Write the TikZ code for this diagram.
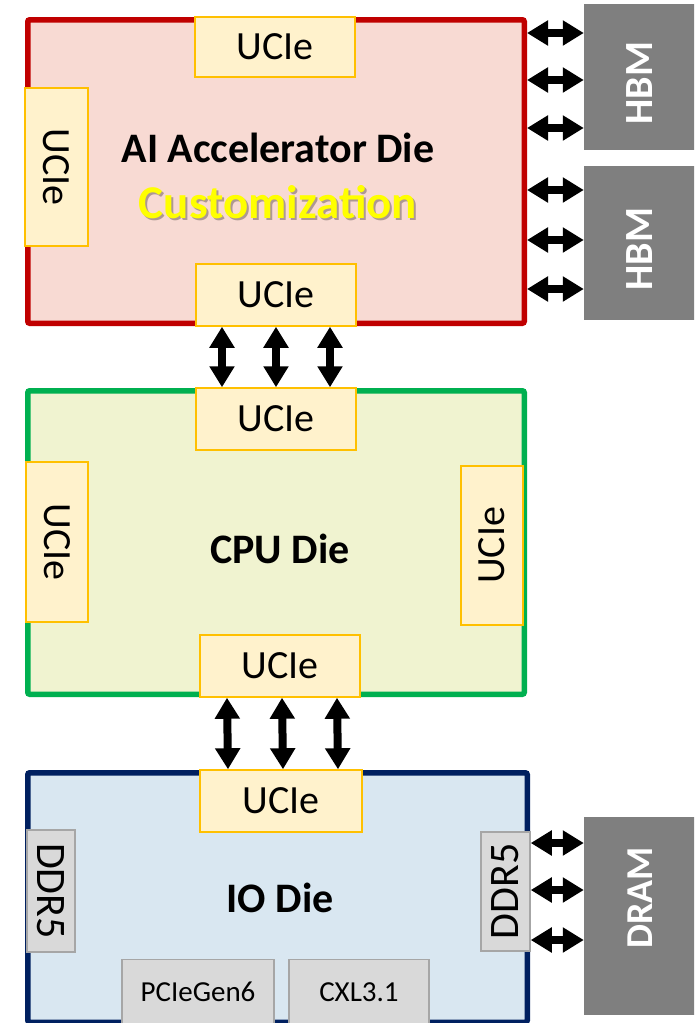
\documentclass[tikz,border=0pt]{standalone}
\usepackage{fontspec}
\setmainfont{Carlito}
\usetikzlibrary{arrows.meta}

\definecolor{ailine}{HTML}{C00000}
\definecolor{aifill}{HTML}{F8DAD3}
\definecolor{cpuline}{HTML}{00B050}
\definecolor{cpufill}{HTML}{F0F3D0}
\definecolor{ioline}{HTML}{002060}
\definecolor{iofill}{HTML}{D9E7F1}
\definecolor{uline}{HTML}{FFC000}
\definecolor{ufill}{HTML}{FFF2CC}
\definecolor{memgray}{HTML}{7F7F7F}
\definecolor{phyfill}{HTML}{D9D9D9}
\definecolor{phyline}{HTML}{A6A6A6}
\definecolor{custyellow}{HTML}{FFFF00}

\begin{document}
\begin{tikzpicture}[x=1pt, y=-1pt,
  die/.style={draw, line width=5.5pt, rounded corners=2pt, inner sep=0pt},
  ucie/.style={draw=uline, fill=ufill, line width=1.5pt, inner sep=0pt, font=\fontsize{40}{40}\selectfont},
  phy/.style={draw=phyline, fill=phyfill, line width=1.5pt, inner sep=0pt},
  mem/.style={fill=memgray, inner sep=0pt},
  memtext/.style={rotate=90, text=white, inner sep=0pt, font=\fontsize{40}{40}\selectfont\bfseries},
  dielabel/.style={font=\fontsize{42}{42}\selectfont\bfseries},
  biarrow/.style={{Triangle[width=24pt,length=21pt]}-{Triangle[width=24pt,length=21pt]}, line width=8pt}]

  \clip (0,0) rectangle (694,1023);

  % AI accelerator die
  \node[die, draw=ailine, fill=aifill, minimum width=496.5, minimum height=303.5] (aiDie) at (276,171.5) {};
  \node[ucie, minimum width=160, minimum height=60] (aiTop) at (275,47) {UCIe};
  \node[ucie, rotate=-90, minimum width=158, minimum height=63] (aiLeft) at (56.5,167) {UCIe};
  \node[ucie, minimum width=160, minimum height=62] (aiBot) at (276,295) {UCIe};
  \node[dielabel] (aiLabel) at (278,148) {AI Accelerator Die};
  \node[dielabel, text=black, opacity=0.3, font=\fontsize{47}{47}\selectfont\bfseries] (aiShadow) at (280,204) {Customization};
  \node[dielabel, text=custyellow, font=\fontsize{47}{47}\selectfont\bfseries] (aiCustom) at (278,202) {Customization};

  % CPU die
  \node[die, draw=cpuline, fill=cpufill, minimum width=496.5, minimum height=303.5] (cpuDie) at (276,542.5) {};
  \node[ucie, minimum width=160, minimum height=62] (cpuTop) at (276,419) {UCIe};
  \node[ucie, rotate=-90, minimum width=160, minimum height=62] (cpuLeft) at (57,542) {UCIe};
  \node[ucie, rotate=90, minimum width=159, minimum height=62] (cpuRight) at (492,545.5) {UCIe};
  \node[ucie, minimum width=160, minimum height=62] (cpuBot) at (280,666) {UCIe};
  \node[dielabel] (cpuLabel) at (280,549) {CPU Die};

  % IO die
  \node[die, draw=ioline, fill=iofill, minimum width=499.5, minimum height=249.5] (ioDie) at (277.5,897.5) {};
  \node[ucie, minimum width=162, minimum height=62] (ioTop) at (281,801) {UCIe};
  \node[phy, rotate=-90, minimum width=122, minimum height=48, font=\fontsize{42}{42}\selectfont] (ddrLeft) at (51,891) {DDR5};
  \node[phy, rotate=90, minimum width=119, minimum height=49, font=\fontsize{42}{42}\selectfont] (ddrRight) at (505.5,891.5) {DDR5};
  \node[phy, minimum width=152, minimum height=65, font=\fontsize{29}{29}\selectfont] (pcie) at (198,992) {PCIeGen6};
  \node[phy, minimum width=140, minimum height=65, font=\fontsize{29}{29}\selectfont] (cxl) at (359,992) {CXL3.1};
  \node[dielabel] (ioLabel) at (280,898) {IO Die};

  % memories
  \node[mem, minimum width=116, minimum height=146] (hbmA) at (642,77) {};
  \node[memtext] (hbmAText) at (640,83) {HBM};
  \node[mem, minimum width=116, minimum height=154] (hbmB) at (642,243) {};
  \node[memtext] (hbmBText) at (640,249) {HBM};
  \node[mem, minimum width=116, minimum height=198] (dram) at (642,916) {};
  \node[memtext, font=\fontsize{38}{38}\selectfont\bfseries] (dramText) at (640,898) {DRAM};

  % die to die links
  \foreach \dx in {-54,0,54}
    \draw[biarrow] ([xshift=\dx pt]aiBot.south) -- ([xshift=\dx pt]cpuTop.north);
  \foreach \dx in {-53,2,57}
    \draw[biarrow] ([xshift=\dx pt]cpuBot.south) -- ([xshift=\dx pt]ioTop.north);

  % memory links
  \foreach \y in {33,80,128}
    \draw[biarrow] (aiDie.east |- 0,\y) -- (hbmA.west |- 0,\y);
  \foreach \y in {190,240,289}
    \draw[biarrow] (aiDie.east |- 0,\y) -- (hbmB.west |- 0,\y);
  \foreach \y in {843,890,940}
    \draw[biarrow] (ddrRight.south |- 0,\y) -- (dram.west |- 0,\y);

\end{tikzpicture}
\end{document}
